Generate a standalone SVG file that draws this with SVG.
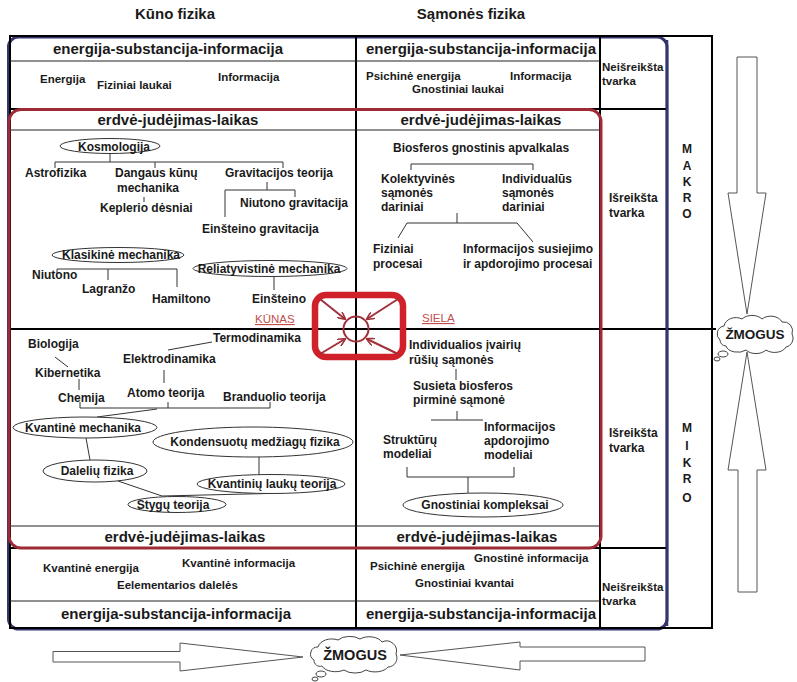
<svg xmlns="http://www.w3.org/2000/svg" width="797" height="682" viewBox="0 0 797 682">
<defs>
<style>
text{font-family:"Liberation Sans",Arial,sans-serif;fill:#1a1a1a;font-weight:bold}
.ti{font-size:15px;text-anchor:middle}
.h{font-size:15px;text-anchor:middle}
.t{font-size:12px}
.tm{font-size:12px;text-anchor:middle}
.s{font-size:11.5px}
.v{font-size:12px;text-anchor:middle}
.red{font-size:11.5px;font-weight:normal;fill:#c0504d;text-decoration:underline}
.grid{stroke:#000;stroke-width:2;fill:none}
.thin{stroke:#222;stroke-width:1.2;fill:none}
.c{stroke:#333;stroke-width:1;fill:none}
.el{stroke:#333;stroke-width:1;fill:#fff}
.arr{fill:#fff;stroke:#555;stroke-width:1}
.cloud{fill:#fff;stroke:#444;stroke-width:1}
</style>
<marker id="ah" viewBox="0 0 10 10" refX="9" refY="5" markerWidth="4" markerHeight="4" orient="auto">
<path d="M0,0 L10,5 L0,10" fill="none" stroke="#a0303a" stroke-width="2"/>
</marker>
</defs>
<rect width="797" height="682" fill="#fff"/>

<!-- titles -->
<text class="ti" x="175" y="19">Kūno fizika</text>
<text class="ti" x="471" y="19">Sąmonės fizika</text>

<!-- frames -->
<rect x="8.5" y="37" width="658.5" height="592" rx="10" fill="none" stroke="#34346e" stroke-width="3"/>
<g id="grid">
<rect class="grid" x="10" y="36" width="702" height="592"/>
<line class="grid" x1="356" y1="36" x2="356" y2="628"/>
<line class="grid" x1="600" y1="36" x2="600" y2="628"/>
<line class="thin" x1="10" y1="61" x2="600" y2="61"/>
<line class="grid" x1="10" y1="109" x2="667" y2="109"/>
<line class="thin" x1="10" y1="130" x2="600" y2="130"/>
<line class="grid" x1="10" y1="329" x2="716" y2="329"/>
<line class="thin" x1="10" y1="526" x2="600" y2="526"/>
<line class="grid" x1="10" y1="548" x2="667" y2="548"/>
<line class="thin" x1="10" y1="601" x2="600" y2="601"/>
</g>
<line x1="667" y1="40" x2="667" y2="626" stroke="#34346e" stroke-width="2.5"/>
<rect x="9" y="109.5" width="592" height="438.5" rx="12" fill="none" stroke="#9e2a35" stroke-width="3"/>

<!-- headers -->
<g id="headers">
<text class="h" x="168" y="54">energija-substancija-informacija</text>
<text class="h" x="481" y="54">energija-substancija-informacija</text>
<text class="h" x="178" y="125">erdvė-judėjimas-laikas</text>
<text class="h" x="481" y="125">erdvė-judėjimas-laikas</text>
<text class="h" x="185" y="542">erdvė-judėjimas-laikas</text>
<text class="h" x="477" y="542">erdvė-judėjimas-laikas</text>
<text class="h" x="176" y="619">energija-substancija-informacija</text>
<text class="h" x="481" y="619">energija-substancija-informacija</text>
</g>

<!-- top row -->
<g id="top-left">
<text class="s" x="40" y="83">Energija</text>
<text class="s" x="97" y="89">Fiziniai laukai</text>
<text class="s" x="218" y="81">Informacija</text>
</g>
<g id="top-right">
<text class="s" x="366" y="80">Psichinė energija</text>
<text class="s" x="510" y="80">Informacija</text>
<text class="s" x="412" y="93">Gnostiniai laukai</text>
</g>
<g id="order-top"><text class="s" x="602" y="71">Neišreikšta</text><text class="s" x="602" y="85">tvarka</text></g>
<g id="order-mid1"><text class="t" x="609" y="202">Išreikšta</text><text class="t" x="609" y="217">tvarka</text></g>
<g id="order-mid2"><text class="t" x="609" y="437">Išreikšta</text><text class="t" x="609" y="452">tvarka</text></g>
<g id="order-bot"><text class="s" x="602" y="591">Neišreikšta</text><text class="s" x="602" y="605">tvarka</text></g>

<g id="makro">
<text class="v" x="687" y="153">M</text><text class="v" x="687" y="170">A</text><text class="v" x="687" y="186">K</text><text class="v" x="687" y="202">R</text><text class="v" x="687" y="218">O</text>
</g>
<g id="mikro">
<text class="v" x="687" y="432">M</text><text class="v" x="687" y="450">I</text><text class="v" x="687" y="467">K</text><text class="v" x="687" y="483">R</text><text class="v" x="687" y="502">O</text>
</g>

<!-- connectors -->
<g id="connectors">
<path class="c" d="M110,153.5V162 M55,168V162H283V168 M155,162V168 M144,197V202"/>
<path class="c" d="M267,182V190 M225,217V190H295V197"/>
<path class="c" d="M57,274V269H177V287 M108,269V280"/>
<path class="c" d="M274,276.5V290"/>
<path class="c" d="M411,170V164H533V170"/>
<path class="c" d="M457,213V223 M398,238L407,223H517L533,242"/>
<path class="c" d="M212,342L168,350 M55,357L68,367 M164,370V383 M79,379V390"/>
<path class="c" d="M80,402V408H270V402 M168,402V408 M157,409L97,417"/>
<path class="c" d="M259,457V474.5 M86,438L90,460 M118,481L162,496L268,493.5"/>
<path class="c" d="M456,369V380 M457,411V420 M431,420H483"/>
<path class="c" d="M407,467V477H514V467 M468,477V493"/>
</g>

<!-- left upper quadrant -->
<g id="kosmologija"><ellipse class="el" cx="110" cy="146" rx="50" ry="7.5"/><text class="tm" x="114" y="151">Kosmologija</text></g>
<g id="astrofizika"><text class="t" x="25" y="177">Astrofizika</text></g>
<g id="dangaus"><text class="t" x="115" y="177">Dangaus kūnų</text><text class="t" x="117" y="192">mechanika</text></g>
<g id="kepler"><text class="t" x="100" y="212">Keplerio dėsniai</text></g>
<g id="gravitacija"><text class="t" x="225" y="177">Gravitacijos teorija</text></g>
<g id="niutono-grav"><text class="t" x="240" y="207">Niutono gravitacija</text></g>
<g id="einst-grav"><text class="t" x="202" y="233">Einšteino gravitacija</text></g>
<g id="klasikine"><ellipse class="el" cx="118" cy="255" rx="66" ry="7.5"/><text class="tm" x="121" y="259">Klasikinė mechanika</text></g>
<g id="niutono"><text class="t" x="32" y="279">Niutono</text></g>
<g id="lagranzo"><text class="t" x="82" y="293">Lagranžo</text></g>
<g id="hamiltono"><text class="t" x="152" y="303">Hamiltono</text></g>
<g id="reliat"><ellipse class="el" cx="270" cy="268.5" rx="77" ry="8"/><text class="tm" x="269" y="272.5">Reliatyvistinė mechanika</text></g>
<g id="einsteino"><text class="t" x="252" y="303">Einšteino</text></g>
<g id="kunas"><text class="red" x="255" y="323">KŪNAS</text></g>

<!-- right upper quadrant -->
<g id="biosferos"><text class="t" x="393" y="152">Biosferos gnostinis apvalkalas</text></g>
<g id="kolektyv"><text class="t" x="381" y="183">Kolektyvinės</text><text class="t" x="381" y="197">sąmonės</text><text class="t" x="381" y="211">dariniai</text></g>
<g id="individ"><text class="t" x="502" y="183">Individualūs</text><text class="t" x="502" y="197">sąmonės</text><text class="t" x="502" y="211">dariniai</text></g>
<g id="fiziniai"><text class="t" x="373" y="253">Fiziniai</text><text class="t" x="373" y="268">procesai</text></g>
<g id="infsus"><text class="t" x="463" y="253">Informacijos susiejimo</text><text class="t" x="463" y="268">ir apdorojimo procesai</text></g>
<g id="siela"><text class="red" x="422" y="322">SIELA</text></g>

<!-- left lower quadrant -->
<g id="termo"><text class="t" x="213" y="342">Termodinamika</text></g>
<g id="biologija"><text class="t" x="28" y="348">Biologija</text></g>
<g id="elektro"><text class="t" x="123" y="363">Elektrodinamika</text></g>
<g id="kibernetika"><text class="t" x="35" y="377">Kibernetika</text></g>
<g id="chemija"><text class="t" x="58" y="402">Chemija</text></g>
<g id="atomo"><text class="t" x="127" y="397">Atomo teorija</text></g>
<g id="branduolio"><text class="t" x="223" y="401">Branduolio teorija</text></g>
<g id="kvantmech"><ellipse class="el" cx="85" cy="427.5" rx="72" ry="10.5"/><text class="tm" x="83" y="432">Kvantinė mechanika</text></g>
<g id="kondens"><ellipse class="el" cx="253" cy="442" rx="100" ry="15"/><text class="tm" x="255" y="446">Kondensuotų medžiagų fizika</text></g>
<g id="kvantlauk"><ellipse class="el" cx="271" cy="484" rx="74" ry="9.5"/><text class="tm" x="272" y="488">Kvantinių laukų teorija</text></g>
<g id="daleliu"><ellipse class="el" cx="95" cy="471" rx="52" ry="11"/><text class="tm" x="97" y="475">Dalelių fizika</text></g>
<g id="stygu"><ellipse class="el" cx="177" cy="504.5" rx="49" ry="8"/><text class="tm" x="173" y="509">Stygų teorija</text></g>

<!-- right lower quadrant -->
<g id="indivivair"><text class="t" x="409" y="349">Individualios įvairių</text><text class="t" x="409" y="364">rūšių sąmonės</text></g>
<g id="susieta"><text class="t" x="413" y="390">Susieta biosferos</text><text class="t" x="413" y="404">pirminė sąmonė</text></g>
<g id="infmod"><text class="t" x="484" y="431">Informacijos</text><text class="t" x="484" y="445">apdorojimo</text><text class="t" x="484" y="459">modeliai</text></g>
<g id="strukt"><text class="t" x="383" y="444">Struktūrų</text><text class="t" x="383" y="458">modeliai</text></g>
<g id="gnostkomp"><ellipse class="el" cx="483" cy="505" rx="80" ry="12"/><text class="tm" x="485" y="509">Gnostiniai kompleksai</text></g>

<!-- bottom row -->
<g id="bottom-left">
<text class="s" x="43" y="572">Kvantinė energija</text>
<text class="s" x="182" y="567">Kvantinė informacija</text>
<text class="s" x="117" y="589">Eelementarios dalelės</text>
</g>
<g id="bottom-right">
<text class="s" x="370" y="570">Psichinė energija</text>
<text class="s" x="474" y="562">Gnostinė informacija</text>
<text class="s" x="415" y="587">Gnostiniai kvantai</text>
</g>

<!-- centre symbol -->
<g id="center">
<rect x="315" y="295" width="88" height="62" rx="11" fill="none" stroke="#d0202a" stroke-width="6.5"/>
<circle cx="356" cy="329" r="12.5" fill="none" stroke="#a0303a" stroke-width="2"/>
<g stroke="#a0303a" stroke-width="2" marker-end="url(#ah)">
<line x1="320" y1="299" x2="345" y2="319"/>
<line x1="398" y1="299" x2="367" y2="319"/>
<line x1="320" y1="354" x2="345" y2="339"/>
<line x1="398" y1="354" x2="367" y2="339"/>
</g>
</g>

<!-- big arrows -->
<g id="arrows">
<polygon class="arr" points="737,57 757,57 757,193 766,193 747,314 728,193 737,193"/>
<polygon class="arr" points="738,592 757,592 757,470 766,470 747,352 728,470 738,470"/>
<polygon class="arr" points="53,651.5 180,651.5 180,643 303,657 180,671 180,662 53,662"/>
<polygon class="arr" points="645,647 520,647 520,642 400,655 520,670 520,661 645,661"/>
</g>

<!-- clouds -->
<g id="zmogus-right">
<path class="cloud" d="M720,340 a8,8 0 0 1 4,-14 a12,10 0 0 1 18,-7 a12,8 0 0 1 20,0 a12,9 0 0 1 20,3 a9,9 0 0 1 10,12 a9,9 0 0 1 -6,13 a12,8 0 0 1 -20,3 a12,8 0 0 1 -20,0 a12,8 0 0 1 -20,-4 a6,6 0 0 1 -6,-6 Z"/>
<ellipse class="cloud" cx="723" cy="354" rx="5" ry="3"/>
<ellipse class="cloud" cx="717" cy="359" rx="3" ry="2"/>
<text x="755" y="339" font-size="13.5" text-anchor="middle">ŽMOGUS</text>
</g>
<g id="zmogus-bottom">
<path class="cloud" d="M314,660 a7,7 0 0 1 4,-13 a14,10 0 0 1 20,-7 a14,8 0 0 1 22,-1 a14,9 0 0 1 22,3 a10,10 0 0 1 14,12 a9,9 0 0 1 -8,13 a14,8 0 0 1 -22,3 a14,8 0 0 1 -22,0 a14,8 0 0 1 -22,-4 a6,6 0 0 1 -8,-6 Z"/>
<ellipse class="cloud" cx="321" cy="674" rx="5" ry="3"/>
<ellipse class="cloud" cx="315" cy="679" rx="3" ry="2"/>
<text x="355" y="660" font-size="14.5" text-anchor="middle">ŽMOGUS</text>
</g>
</svg>
